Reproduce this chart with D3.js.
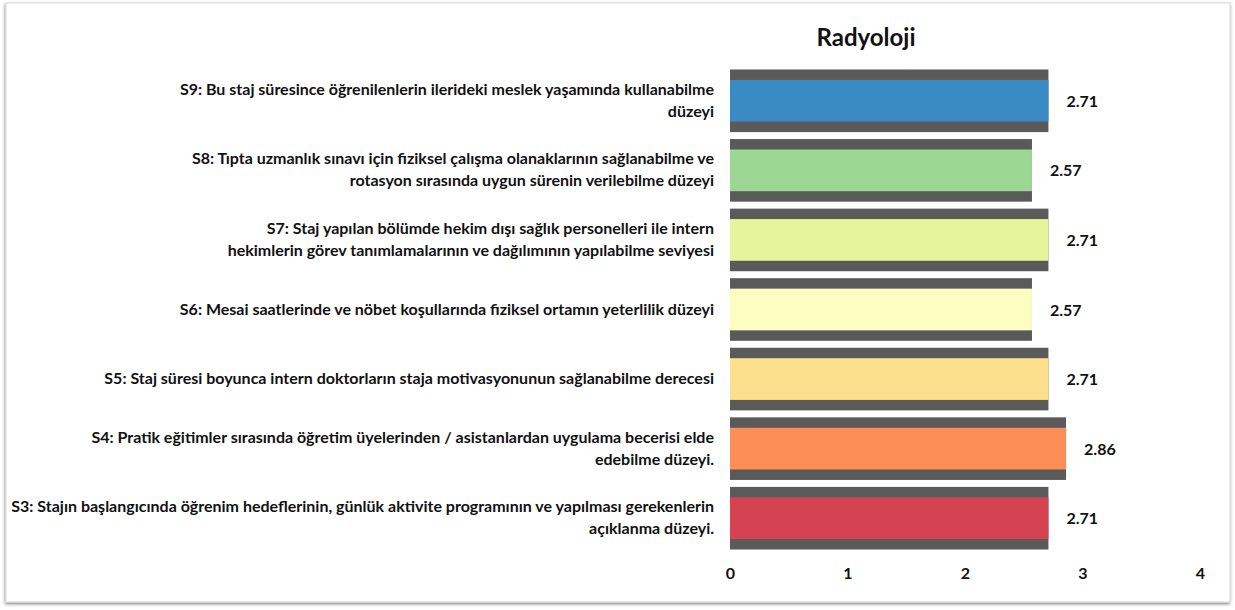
<!DOCTYPE html>
<html><head><meta charset="utf-8">
<script src="https://cdn.jsdelivr.net/npm/d3@7"></script>
<style>
html,body{margin:0;padding:0;background:#fff;}
svg{display:block;}
text{font-family:"Lato","Open Sans",sans-serif;font-weight:bold;fill:#111;}
</style></head>
<body>
<svg id="chart" width="1235" height="610"></svg>
<script>
const title = "Radyoloji";
const categories = [
  "S9: Bu staj süresince öğrenilenlerin ilerideki meslek yaşamında kullanabilme|düzeyi",
  "S8: Tıpta uzmanlık sınavı için fiziksel çalışma olanaklarının sağlanabilme ve|rotasyon sırasında uygun sürenin verilebilme düzeyi",
  "S7: Staj yapılan bölümde hekim dışı sağlık personelleri ile intern|hekimlerin görev tanımlamalarının ve dağılımının yapılabilme seviyesi",
  "S6: Mesai saatlerinde ve nöbet koşullarında fiziksel ortamın yeterlilik düzeyi",
  "S5: Staj süresi boyunca intern doktorların staja motivasyonunun sağlanabilme derecesi",
  "S4: Pratik eğitimler sırasında öğretim üyelerinden / asistanlardan uygulama becerisi elde|edebilme düzeyi.",
  "S3: Stajın başlangıcında öğrenim hedeflerinin, günlük aktivite programının ve yapılması gerekenlerin|açıklanma düzeyi."
];
const values = [2.71, 2.57, 2.71, 2.57, 2.71, 2.86, 2.71];
const colors = ["#3a8bc3", "#9cd894", "#e6f59c", "#fcfdc1", "#fde08c", "#fd8f56", "#d54353"];
const tickValues = [0, 1, 2, 3, 4];

const svg = d3.select("#chart");

// frame with shadow
const defs = svg.append("defs");
const f = defs.append("filter").attr("id","sh").attr("x","-2%").attr("y","-2%").attr("width","104%").attr("height","106%");
f.append("feDropShadow").attr("dx",-0.5).attr("dy",1.5).attr("stdDeviation",1.8).attr("flood-color","#000").attr("flood-opacity",0.5);
svg.append("rect").attr("x",6).attr("y",3).attr("width",1224).attr("height",599)
  .attr("fill","#fff").attr("stroke","#d9d9d9").attr("stroke-width",1).attr("filter","url(#sh)");

const x = d3.scaleLinear().domain([0, 4]).range([730, 1200]);
const y = d3.scaleBand().domain(categories).range([66, 553]).paddingInner(0.1).paddingOuter(0.05);

svg.append("text").attr("x", 866).attr("y", 46).attr("text-anchor","middle")
  .style("font-size","24px").text(title);

const g = svg.append("g");
const bw = y.bandwidth();
const inset = bw * 0.167;

g.selectAll("rect.outer").data(categories).join("rect").attr("class","outer")
  .attr("x", x(0)).attr("y", d => y(d))
  .attr("width", (d,i) => x(values[i]) - x(0)).attr("height", bw)
  .attr("fill", "#5a5a5a");
g.selectAll("rect.inner").data(categories).join("rect").attr("class","inner")
  .attr("x", x(0)).attr("y", d => y(d) + inset)
  .attr("width", (d,i) => x(values[i]) - x(0)).attr("height", bw - 2*inset)
  .attr("fill", (d,i) => colors[i]);

// value labels
g.selectAll("text.val").data(categories).join("text").attr("class","val")
  .attr("x", (d,i) => x(values[i]) + 18).attr("y", d => y(d) + bw/2 + 6)
  .style("font-size","16px").text((d,i) => values[i].toFixed(2));

// category labels
const fs = 16, lh = 22;
categories.forEach((c) => {
  const lines = c.split("|");
  const cy = y(c) + bw/2;
  const t = svg.append("text").attr("text-anchor","end").style("font-size", fs+"px");
  lines.forEach((ln, k) => {
    t.append("tspan").attr("x", 714)
      .attr("y", cy + (k - (lines.length-1)/2) * lh + 5).text(ln);
  });
});

// x axis (labels only)
const ax = svg.append("g").attr("transform","translate(0,565)")
  .call(d3.axisBottom(x).tickValues(tickValues).tickSize(0).tickFormat(d3.format("d")));
ax.select(".domain").remove();
ax.selectAll("text").style("font-size","16px").style("font-family","Lato, sans-serif").style("font-weight","bold").attr("fill","#111");
</script>
</body></html>
